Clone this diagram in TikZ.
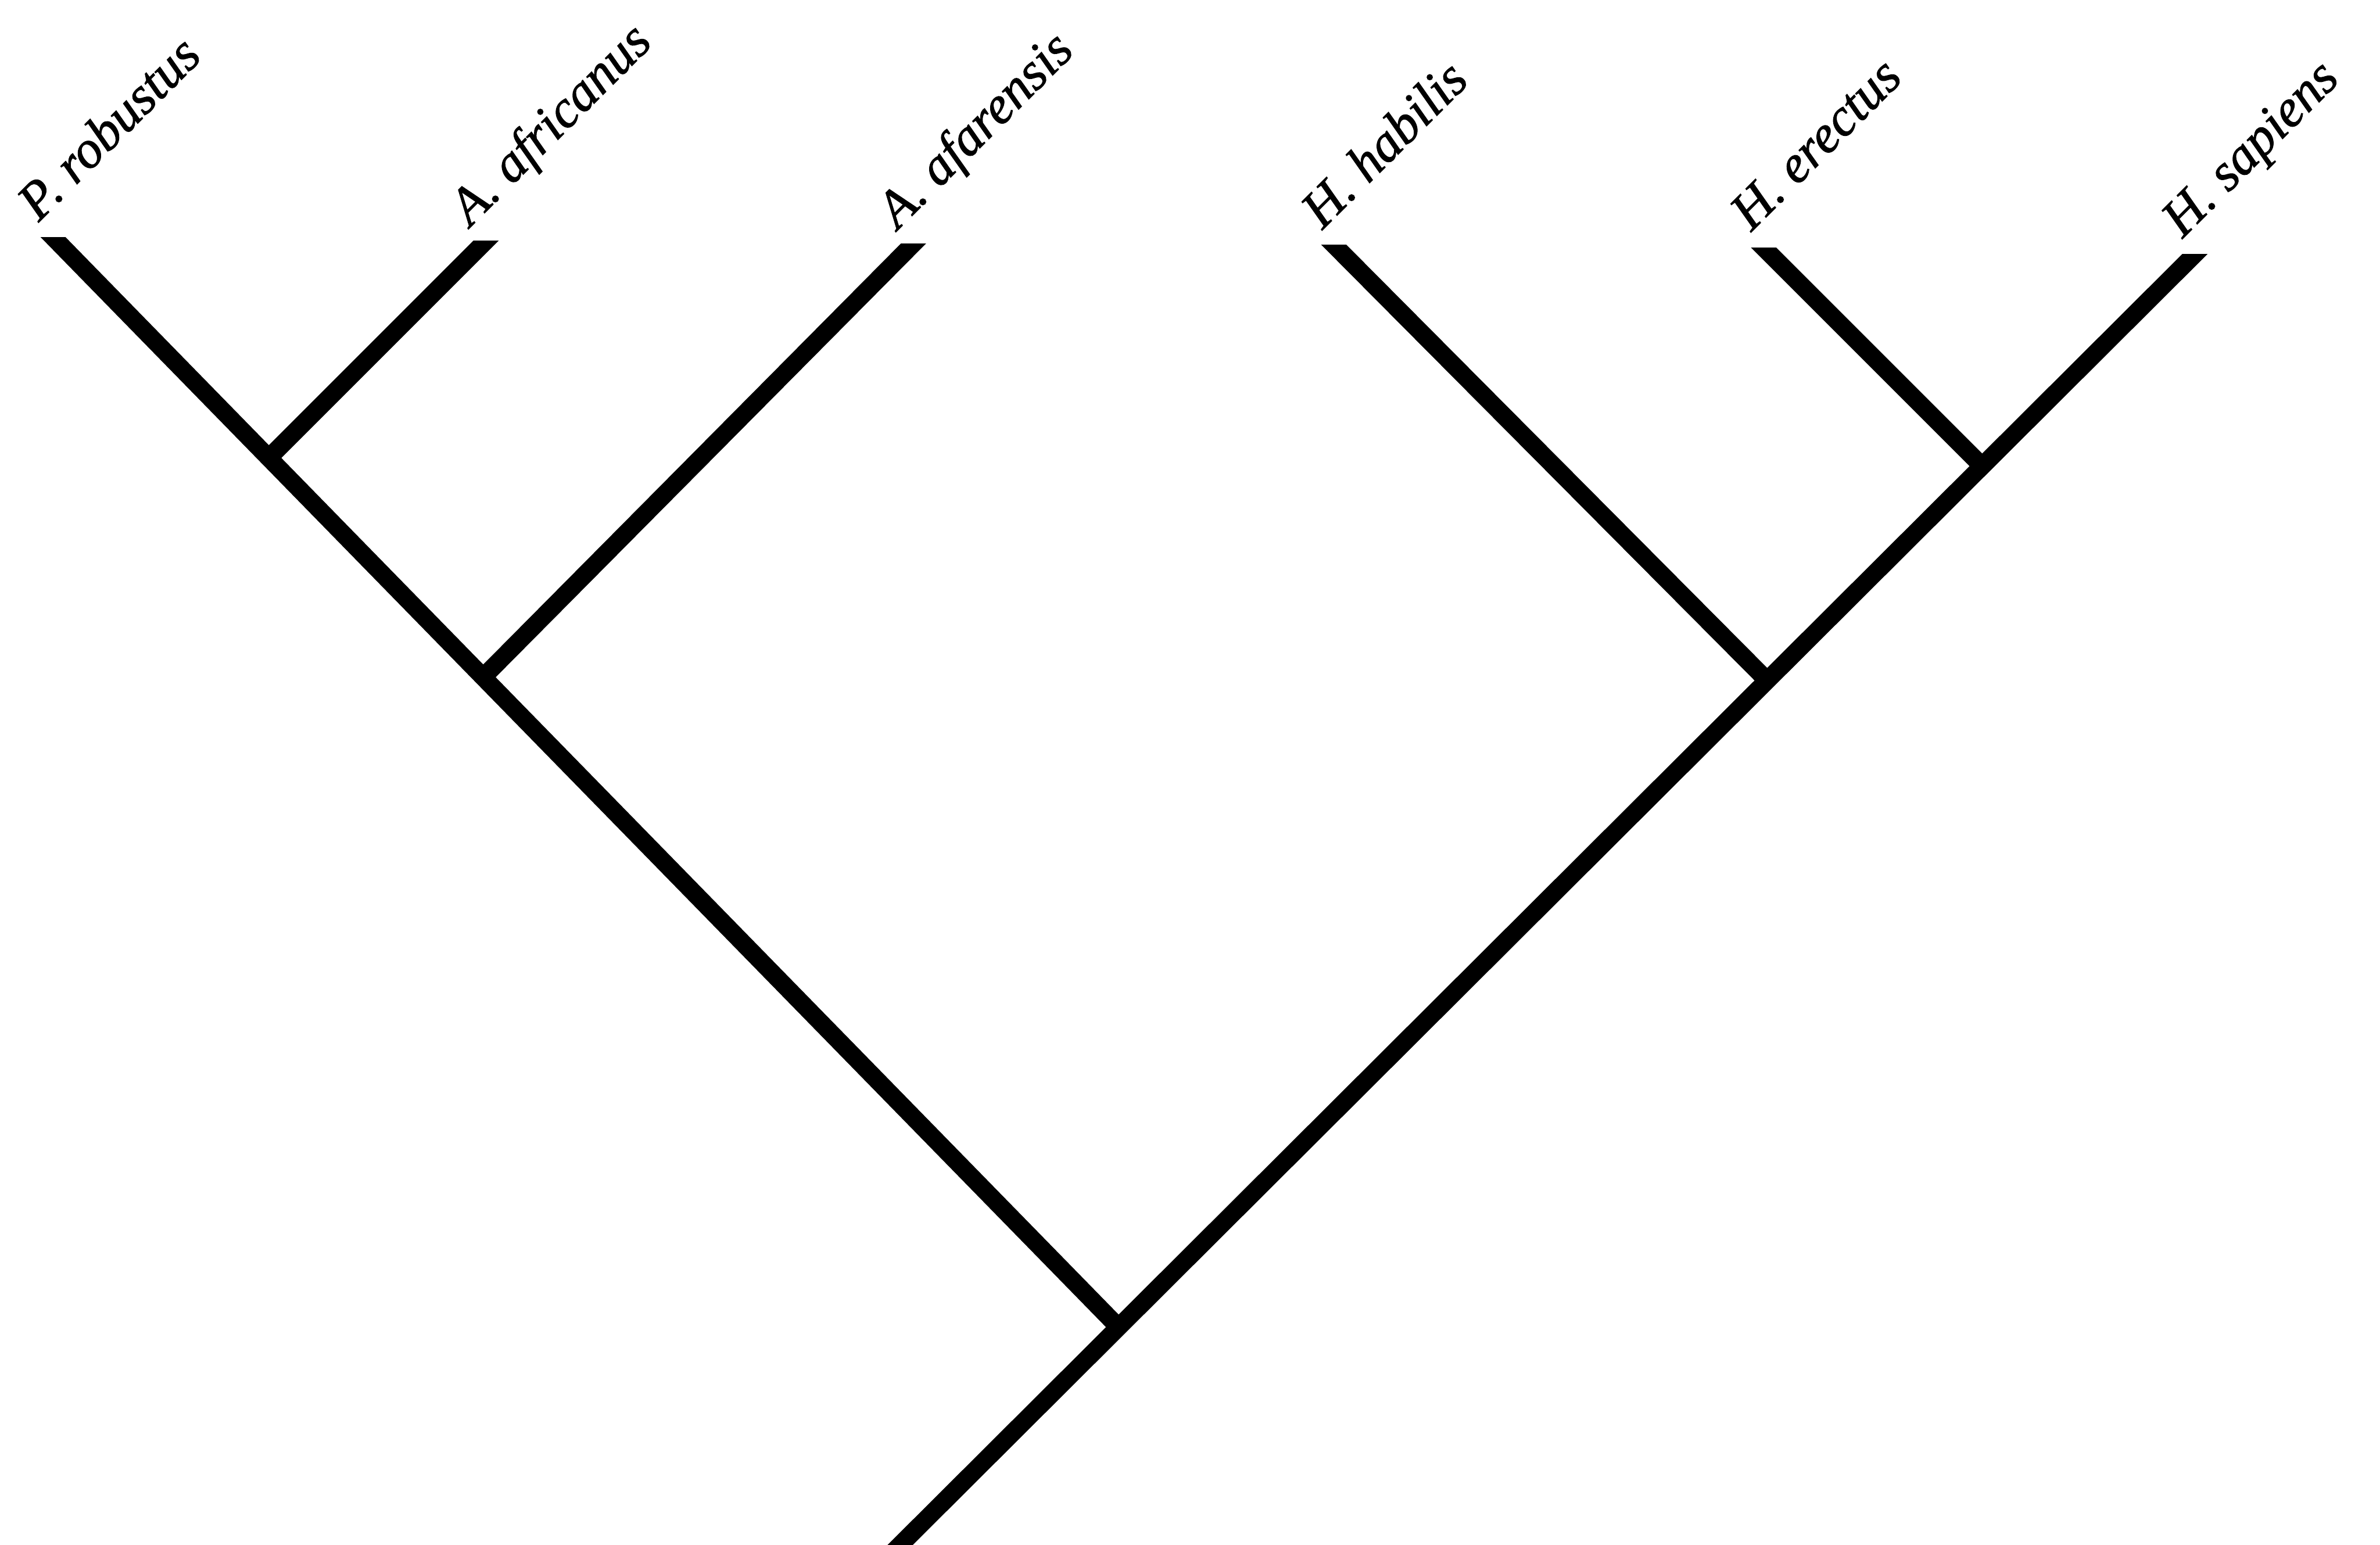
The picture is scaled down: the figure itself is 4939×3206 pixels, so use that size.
\documentclass[tikz,border=0pt]{standalone}
\usepackage{fontspec}
\newfontfamily\taxfont{Liberation Serif}[ItalicFeatures={FakeBold=1.2}]
\usetikzlibrary{calc}
\begin{document}
\begin{tikzpicture}[x=0.5pt,y=-0.5pt,
  branch/.style={line width=18.5pt, line cap=butt, draw=black},
  taxon/.style={anchor=base west, rotate=45, inner sep=0pt,
    font=\taxfont\fontsize{55}{62}\selectfont\itshape}]
\useasboundingbox (0,0) rectangle (4939,3206);
% tips (top centre of each branch end) and junctions, in pixel units
\coordinate (tPR)  at (110,492);
\coordinate (tAfr) at (1008,500);
\coordinate (tAfa) at (1895,506);
\coordinate (tHab) at (2768,508);
\coordinate (tEre) at (3660,514);
\coordinate (tSap) at (4555,527);
\coordinate (J1)   at (558,950);
\coordinate (J2)   at (1003,1405);
\coordinate (root) at (2317,2750);
\coordinate (JH)   at (3664,1409);
\coordinate (J3)   at (4112,966);
\coordinate (base) at (1834,3240);
% main left line: P. robustus down to the root
\begin{scope}
  \clip ($(tPR)+(-100,0)$) rectangle ($(root)+(100,100)$);
  \draw[branch, shorten <=-20pt] (tPR) -- (root);
\end{scope}
% main right line: base up to H. sapiens
\begin{scope}
  \clip ($(tSap)+(100,0)$) rectangle ($(base)+(-100,100)$);
  \draw[branch, shorten >=-20pt] (base) -- (tSap);
\end{scope}
% A. africanus
\begin{scope}
  \clip ($(tAfr)+(100,0)$) rectangle ($(J1)+(-100,100)$);
  \draw[branch, shorten >=-20pt] (J1) -- (tAfr);
\end{scope}
% A. afarensis
\begin{scope}
  \clip ($(tAfa)+(100,0)$) rectangle ($(J2)+(-100,100)$);
  \draw[branch, shorten >=-20pt] (J2) -- (tAfa);
\end{scope}
% H. habilis
\begin{scope}
  \clip ($(tHab)+(-100,0)$) rectangle ($(JH)+(100,100)$);
  \draw[branch, shorten <=-20pt] (tHab) -- (JH);
\end{scope}
% H. erectus
\begin{scope}
  \clip ($(tEre)+(-100,0)$) rectangle ($(J3)+(100,100)$);
  \draw[branch, shorten <=-20pt] (tEre) -- (J3);
\end{scope}
% labels
\node[taxon] (lPR)  at ($(tPR)+(-30,-30)$)  {P. robustus};
\node[taxon] (lAfr) at ($(tAfr)+(-32,-28)$) {A. africanus};
\node[taxon] (lAfa) at ($(tAfa)+(-32,-28)$) {A. afarensis};
\node[taxon] (lHab) at ($(tHab)+(-24,-30)$) {H. habilis};
\node[taxon] (lEre) at ($(tEre)+(-26,-32)$) {H. erectus};
\node[taxon] (lSap) at ($(tSap)+(-26,-31)$) {H. sapiens};
\end{tikzpicture}
\end{document}
